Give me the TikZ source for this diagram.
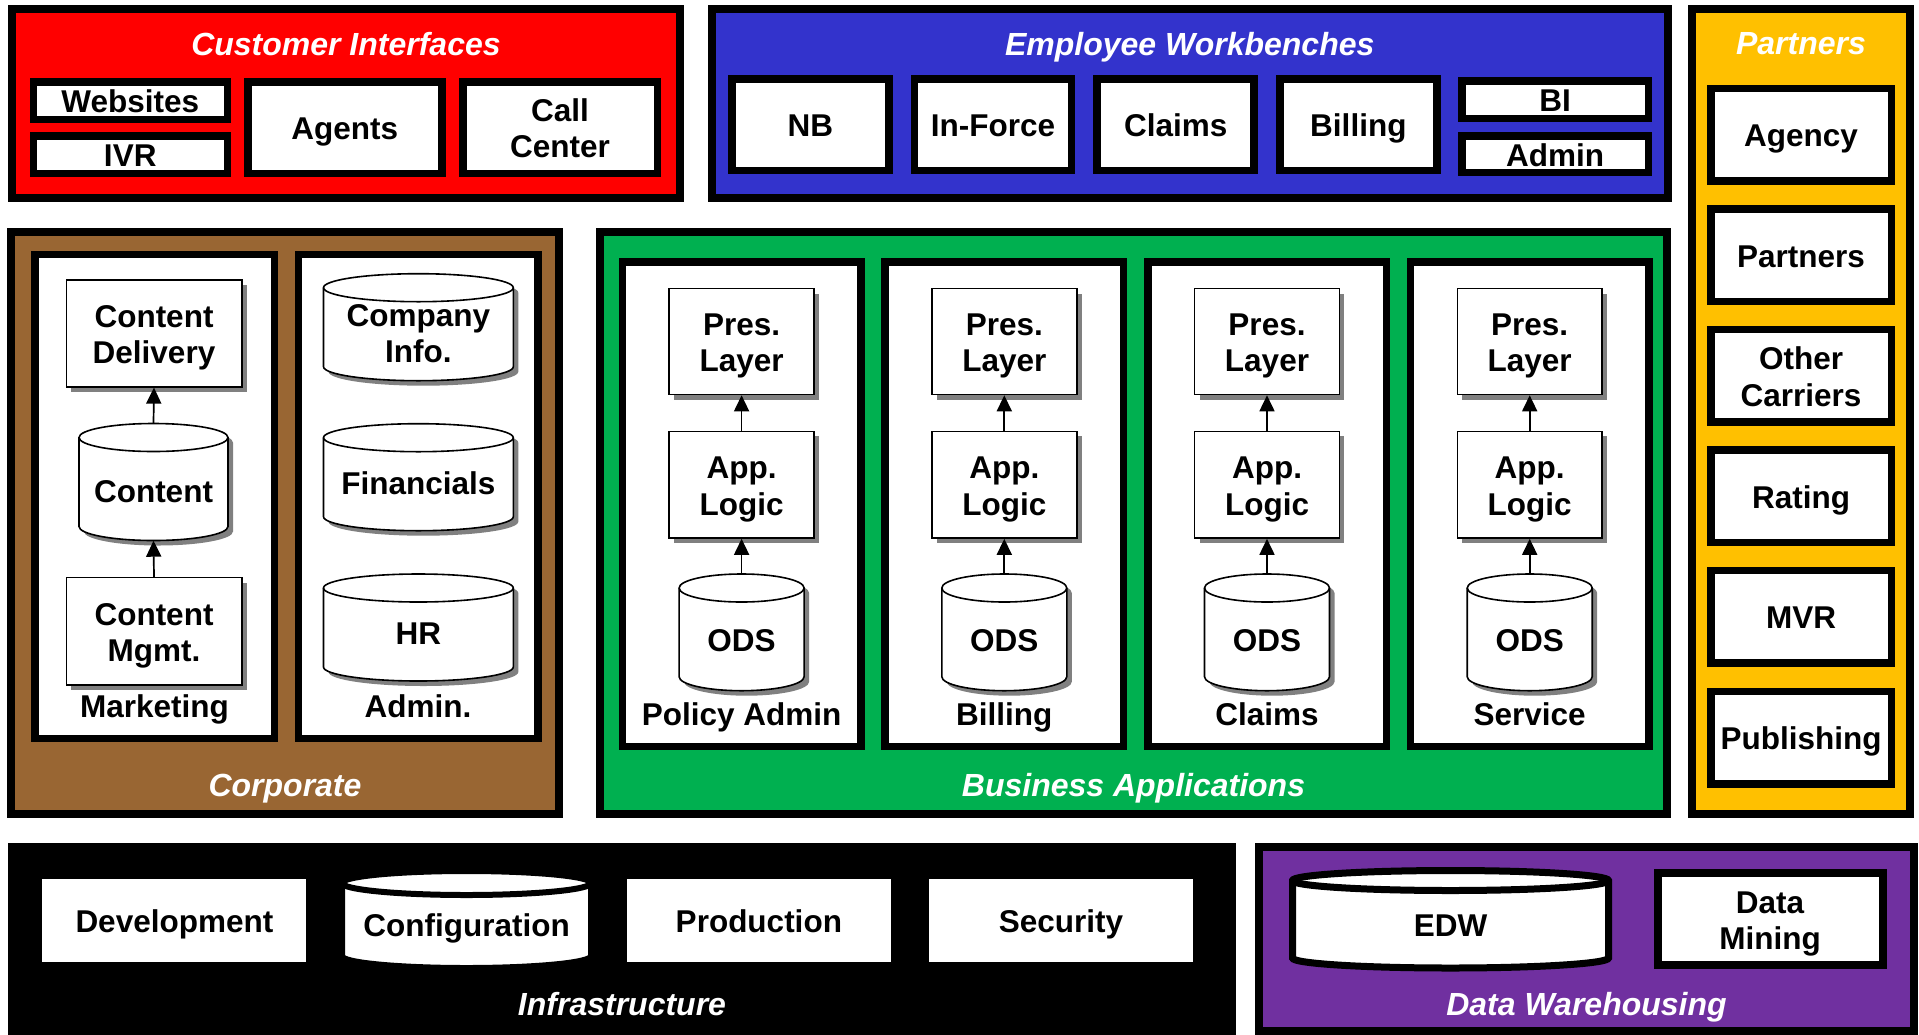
\documentclass[tikz,border=0pt]{standalone}
\usepackage{fontspec}
\setmainfont{Liberation Sans}
\usetikzlibrary{arrows.meta,shadows}

\definecolor{ciRed}{HTML}{FF0000}
\definecolor{ewBlue}{HTML}{3333CC}
\definecolor{coBrown}{HTML}{996633}
\definecolor{baGreen}{HTML}{00B050}
\definecolor{ptGold}{HTML}{FFC000}
\definecolor{dwPurple}{HTML}{7030A0}

\newcommand\labfont{\fontsize{31.5pt}{36.5pt}\selectfont\bfseries}
\newcommand\ttlfont{\fontsize{32pt}{38pt}\selectfont\bfseries\itshape}
% two centred lines with fixed first-line height and last-line depth
\newcommand\twolines[2]{\rule{0pt}{31pt}#1\\#2\rule[-6.6pt]{0pt}{6.6pt}}

% outline of a database drum, using the values set by \drum
\newcommand\drumbody[1]{%
  \path[#1] (\cyL,\cyTc) -- (\cyL,\cyBc)
    .. controls (\cyL,{\cyBc+\cyKy}) and ({\cyM-\cyKx},\cyB) .. (\cyM,\cyB)
    .. controls ({\cyM+\cyKx},\cyB) and (\cyR,{\cyBc+\cyKy}) .. (\cyR,\cyBc)
    -- (\cyR,\cyTc)
    .. controls (\cyR,{\cyTc-\cyKy}) and ({\cyM+\cyKx},\cyT) .. (\cyM,\cyT)
    .. controls ({\cyM-\cyKx},\cyT) and (\cyL,{\cyTc-\cyKy}) .. cycle;}

% #1 name, #2 cx, #3 cy, #4 width, #5 height, #6 cap radius, #7 line width, #8 shadow colour
\newcommand\drum[8]{%
  \pgfmathsetmacro\cyL{#2-#4/2}%
  \pgfmathsetmacro\cyR{#2+#4/2}%
  \pgfmathsetmacro\cyT{#3-#5/2}%
  \pgfmathsetmacro\cyB{#3+#5/2}%
  \pgfmathsetmacro\cyTc{#3-#5/2+#6}%
  \pgfmathsetmacro\cyBc{#3+#5/2-#6}%
  \pgfmathsetmacro\cyKx{0.5523*#4/2}%
  \pgfmathsetmacro\cyKy{0.5523*#6}%
  \pgfmathsetmacro\cyM{#2}%
  \drumbody{fill=#8, shift={(5,5)}}%
  \drumbody{fill=white, draw=black, line width=#7}%
  \draw[line width=#7] (\cyL,\cyTc)
    .. controls (\cyL,{\cyTc+\cyKy}) and ({\cyM-\cyKx},{\cyTc+#6}) .. (\cyM,{\cyTc+#6})
    .. controls ({\cyM+\cyKx},{\cyTc+#6}) and (\cyR,{\cyTc+\cyKy}) .. (\cyR,\cyTc);
  \node[inner sep=0pt, minimum width=#4pt, minimum height=#5pt] (#1) at (#2,#3) {};
}

\begin{document}
\begin{tikzpicture}[x=1pt, y=-1pt,
  container/.style={draw=black, line width=8pt, inner sep=0pt},
  frame/.style={draw=black, line width=7.5pt, fill=white, inner sep=0pt, font=\labfont},
  card/.style={draw=black, line width=1.6pt, fill=white, inner sep=0pt, font=\labfont,
    drop shadow={shadow xshift=5pt, shadow yshift=-5pt, fill=black!50, opacity=1}},
  plain/.style={fill=white, inner sep=0pt, font=\labfont},
  one/.style={text height=24pt, text depth=0pt},
  two/.style={align=center},
  lab/.style={font=\labfont, inner sep=0pt},
  ttl/.style={font=\ttlfont, text=white, inner sep=0pt, anchor=base},
  arr/.style={line width=1.7pt, -{Triangle[width=15pt,length=16pt]}},
  ewbox/.style={frame, one, minimum width=157pt, minimum height=91.5pt},
  ptbox/.style={frame, minimum width=180.5pt, minimum height=92.5pt},
  infbox/.style={plain, one, minimum width=264pt, minimum height=82.4pt}]

\useasboundingbox (0,0) rectangle (1919,1034);
\fill[white] (0,0) rectangle (1919,1034);

% ---------- layer containers ----------
\node[container, fill=ciRed, minimum width=668pt, minimum height=189pt] (ci) at (346,103.5) {};
\node[container, fill=ewBlue, minimum width=956.5pt, minimum height=189pt] (ew) at (1189.75,103.5) {};
\node[container, fill=ptGold, minimum width=218pt, minimum height=805pt] (pt) at (1801,411.5) {};
\node[container, fill=coBrown, minimum width=548pt, minimum height=582pt] (co) at (285,523) {};
\node[container, fill=baGreen, minimum width=1067pt, minimum height=582pt] (ba) at (1133.5,523) {};
\node[fill=black, inner sep=0pt, minimum width=1228pt, minimum height=197pt] (inf) at (622,941.5) {};
\node[container, fill=dwPurple, minimum width=655pt, minimum height=184pt] (dw) at (1586.5,939) {};

\node[ttl] (ciT) at (346,55) {Customer Interfaces};
\node[ttl] (ewT) at (1189.75,55) {Employee Workbenches};
\node[ttl] (ptT) at (1801,54) {Partners};
\node[ttl] (coT) at (285,796) {Corporate};
\node[ttl] (baT) at (1133.5,796) {Business Applications};
\node[ttl] (infT) at (622,1015) {Infrastructure};
\node[ttl] (dwT) at (1586.5,1015) {Data Warehousing};

% ---------- customer interfaces ----------
\node[frame, one, minimum width=194pt, minimum height=37.5pt] (web) at (130.25,100.5) {Websites};
\node[frame, one, minimum width=194pt, minimum height=37.5pt] (ivr) at (130.25,154.5) {IVR};
\node[frame, one, minimum width=194pt, minimum height=91.5pt] (agt) at (344.75,127.5) {Agents};
\node[frame, two, minimum width=194.5pt, minimum height=91.5pt] (cc) at (560,127.5) {\twolines{Call}{Center}};

% ---------- employee workbenches ----------
\node[ewbox] (nb) at (810.25,124.5) {NB};
\node[ewbox] (infc) at (992.95,124.5) {In-Force};
\node[ewbox] (clw) at (1175.65,124.5) {Claims};
\node[ewbox] (bilw) at (1358.35,124.5) {Billing};
\node[frame, one, minimum width=186.5pt, minimum height=37.5pt] (bi) at (1555,99.5) {BI};
\node[frame, one, minimum width=186.5pt, minimum height=36.5pt] (admw) at (1555,154) {Admin};

% ---------- partners ----------
\node[ptbox, one] (agy) at (1801,134.5) {Agency};
\node[ptbox, one] (prt) at (1801,255.1) {Partners};
\node[ptbox, two] (oth) at (1801,375.7) {\twolines{Other}{Carriers}};
\node[ptbox, one] (rat) at (1801,496.3) {Rating};
\node[ptbox, one] (mvr) at (1801,616.9) {MVR};
\node[ptbox, one] (pub) at (1801,737.5) {Publishing};

% ---------- corporate ----------
\node[frame, minimum width=239.5pt, minimum height=484pt] (mkt) at (154.5,496.3) {};
\node[frame, minimum width=239.5pt, minimum height=484pt] (admp) at (418,496.3) {};
\node[lab, anchor=base] (mktL) at (154.5,717.5) {Marketing};
\node[lab, anchor=base] (admL) at (418,717.5) {Admin.};

\node[card, two, minimum width=175.4pt, minimum height=107pt] (cdel) at (154,333.3) {\twolines{Content}{Delivery}};
\drum{cnt}{153.5}{482}{149}{117}{14}{1.6pt}{black!50}
\node[lab, one] (cntL) at (153.5,490) {Content};
\node[card, two, minimum width=175.4pt, minimum height=107.7pt] (cmg) at (154,631.4) {\twolines{Content}{Mgmt.}};
\draw[arr] (cmg.north) -- (cnt.south);
\draw[arr] (cnt.north) -- (cdel.south);

\drum{cinf}{418.4}{327.2}{189.8}{107}{14}{1.6pt}{black!50}
\node[lab, two] (cinfL) at (418.4,332.5) {\twolines{Company}{Info.}};
\drum{fin}{418.4}{477.2}{189.8}{107}{14}{1.6pt}{black!50}
\node[lab, one] (finL) at (418.4,482.8) {Financials};
\drum{hr}{418.4}{627.5}{189.8}{107}{14}{1.6pt}{black!50}
\node[lab, one] (hrL) at (418.4,632.8) {HR};

% ---------- business applications ----------
\foreach \k/\cx/\nm in {a/741.6/Policy Admin, b/1004.3/Billing, c/1267/Claims, d/1529.7/Service}{
  \node[frame, minimum width=238.5pt, minimum height=484.5pt] (app\k) at (\cx,504) {};
  \node[card, two, minimum width=144.8pt, minimum height=106pt] (pres\k) at (\cx,341.5) {\twolines{Pres.}{Layer}};
  \node[card, two, minimum width=144.8pt, minimum height=106.7pt] (logic\k) at (\cx,484.65) {\twolines{App.}{Logic}};
  \drum{ods\k}{\cx}{632.35}{125}{116.7}{14}{1.6pt}{black!50}
  \node[lab, one] (odsL\k) at (\cx,639.3) {ODS};
  \node[lab, anchor=base] (sys\k) at (\cx,725) {\nm};
  \draw[arr] (ods\k.north) -- (logic\k.south);
  \draw[arr] (logic\k.north) -- (pres\k.south);
}

% ---------- infrastructure ----------
\node[infbox] (dev) at (174.4,920.5) {Development};
\drum{cfg}{466.5}{919.5}{249}{97}{12}{6pt}{none}
\node[lab, one] (cfgL) at (466.5,924.7) {Configuration};
\node[infbox] (prod) at (758.85,920.5) {Production};
\node[infbox] (sec) at (1061,920.5) {Security};

% ---------- data warehousing ----------
\drum{edw}{1450.5}{919.25}{316}{97.5}{10}{7pt}{none}
\node[lab, one] (edwL) at (1450.5,924) {EDW};
\node[frame, two, line width=8pt, minimum width=225pt, minimum height=92pt] (dm) at (1770.1,919.3) {\twolines{Data}{Mining}};

\end{tikzpicture}
\end{document}
